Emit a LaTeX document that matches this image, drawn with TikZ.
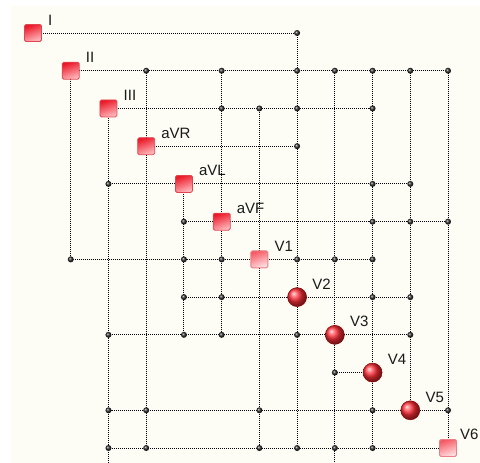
\documentclass[tikz,border=0pt]{standalone}
\usepackage{fontspec}
\setmainfont{Liberation Sans}
\usetikzlibrary{backgrounds,shadings}
\definecolor{cream}{RGB}{253,253,245}
\definecolor{sqedge}{RGB}{225,70,80}
\definecolor{sqtop}{RGB}{235,25,40}
\definecolor{sqbot}{RGB}{255,185,190}
\definecolor{ltop}{RGB}{245,90,100}
\definecolor{lbot}{RGB}{255,225,228}
\definecolor{ballred}{RGB}{255,45,55}
\definecolor{txt}{RGB}{25,25,25}
\tikzset{
  sq/.style={rectangle, rounded corners=1.5pt, minimum size=17pt, inner sep=0pt,
    draw=sqedge, line width=0.8pt, top color=sqtop, bottom color=sqbot, shading angle=20},
  sqlight/.style={rectangle, rounded corners=1.5pt, minimum size=17pt, inner sep=0pt,
    draw=sqedge!70, line width=0.8pt, top color=ltop, bottom color=lbot, shading angle=20},
  ballnode/.style={circle, minimum size=19pt, inner sep=0pt, ball color=ballred, draw=red!55!black, line width=0.5pt},
  dotn/.style={circle, minimum size=6pt, inner sep=0pt, ball color=black!85},
  lbl/.style={anchor=base west, inner sep=0pt, text=txt, font=\fontsize{15}{18}\selectfont},
  wire/.style={draw=black, line width=1pt, dash pattern=on 1pt off 1pt}
}
\begin{document}
\begin{tikzpicture}[x=1pt,y=-1pt]
\useasboundingbox (0,0) rectangle (480,463);
% main nodes
\foreach \i/\lab/\sty in {0/I/sq,1/II/sq,2/III/sq,3/aVR/sq,4/aVL/sq,5/aVF/sq,6/V1/sqlight,7/V2/ballnode,8/V3/ballnode,9/V4/ballnode,10/V5/ballnode}{
  \node[\sty] (n\i) at ({33+37.73*\i},{33+37.73*\i}) {};
  \node[lbl] (l\i) at ({33+37.73*\i+15},{33+37.73*\i-8}) {\lab};
}
\node[sqlight] (n11) at ({33+37.73*11},{33+37.73*11}) {};
\node[lbl] (l11) at ({33+37.73*11+12},{33+37.73*11-9}) {V6};
% junction dots
\foreach \r/\c in {0/7,
  1/3,1/5,1/7,1/8,1/9,1/10,1/11,
  2/5,2/6,2/7,2/9,
  3/7,
  4/2,4/9,4/10,
  5/4,5/9,5/10,5/11,
  6/1,6/4,6/5,6/7,6/8,6/9,
  7/4,7/5,7/9,7/10,
  8/2,8/4,8/5,8/7,8/10,
  9/8,
  10/2,10/3,10/6,10/9,10/11,
  11/2,11/3,11/6,11/7,11/8,11/9}{
  \node[dotn] (d\r-\c) at ({33+37.73*\c},{33+37.73*\r}) {};
}
\coordinate (b2) at ({33+37.73*2},463);
\coordinate (b8) at ({33+37.73*8},463);
\begin{scope}[on background layer]
  \fill[white] (0,0) rectangle (480,463);
  \fill[cream] (11,6) rectangle (480,463);
  % horizontal wires
  \foreach \a/\b in {n0/d0-7, n1/d1-11, n2/d2-9, n3/d3-7, d4-2/d4-10, d5-4/d5-11,
    d6-1/d6-9, d7-4/d7-10, d8-2/d8-10, d9-8/n9, d10-2/d10-11, d11-2/n11}{
    \path[wire] (\a.center) -- (\b.center);
  }
  % vertical wires
  \foreach \a/\b in {n1/d6-1, n2/b2, d1-3/d11-3, n4/d8-4, d1-5/d8-5, d2-6/d11-6,
    d0-7/d11-7, d1-8/b8, d1-9/d11-9, d1-10/n10, d1-11/n11}{
    \path[wire] (\a.center) -- (\b.center);
  }
\end{scope}
\end{tikzpicture}
\end{document}
